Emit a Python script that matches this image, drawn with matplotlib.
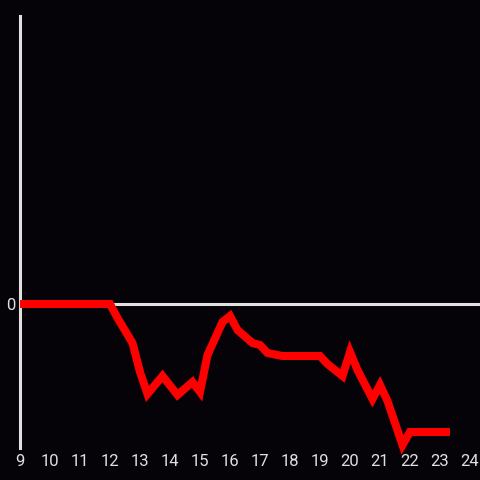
import matplotlib
matplotlib.use("Agg")
import matplotlib.pyplot as plt

plt.rcParams['font.family'] = ['Roboto', 'DejaVu Sans']

# hour of day and value (zero line = 0)
hours = [9, 12, 12.25, 12.75, 13, 13.25, 13.75, 14.25, 14.75, 15, 15.25, 15.75,
         16, 16.25, 16.75, 17, 17.25, 17.75, 19, 19.25, 19.75, 20, 20.25,
         20.75, 21, 21.25, 21.75, 22, 23.33]
values = [0, 0, -1.4, -3.9, -6.8, -9.0, -7.2, -9.1, -7.8, -8.8, -5.1, -1.8,
          -1.2, -2.6, -3.9, -4.1, -4.9, -5.2, -5.2, -6.0, -7.2, -4.8, -6.6,
          -9.5, -8.1, -9.7, -14.1, -12.8, -12.8]
xticks = list(range(9, 25))
yticks = [0]

bg = "#050307"
fg = "#e0e0e0"

fig = plt.figure(figsize=(4.8, 4.8), dpi=100, facecolor=bg)
ax = fig.add_axes([20/480, 32/480, 460/480, 432/480], facecolor=bg)

ax.axhline(0, color=fg, lw=2.2, zorder=1)
ax.plot(hours, values, color="#ff0000", lw=5.8, solid_joinstyle="miter",
        solid_capstyle="butt", clip_on=False, zorder=3)

ax.set_xlim(9, 9 + 460/30)
ax.set_ylim(-14.4, 28.8)
ax.set_xticks(xticks)
ax.set_yticks(yticks)
ax.set_xticklabels([str(t) for t in xticks])
ax.set_yticklabels(["0"])
ax.tick_params(axis="both", length=0, colors=fg, labelsize=12)
ax.tick_params(axis="x", pad=4)
ax.tick_params(axis="y", pad=3)

for side in ["top", "right", "bottom"]:
    ax.spines[side].set_visible(False)
ax.spines["left"].set_color(fg)
ax.spines["left"].set_linewidth(2.2)

fig.savefig("out.png", dpi=100, facecolor=bg)
